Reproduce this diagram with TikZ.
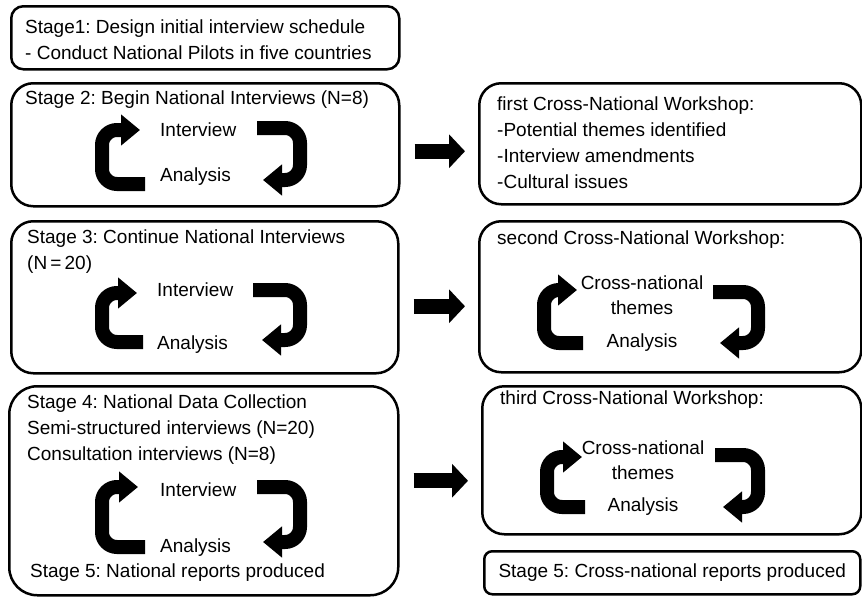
\documentclass[tikz,border=0pt]{standalone}
\usepackage{fontspec}
\setmainfont{Liberation Sans}
\usepackage{tikz}
\usetikzlibrary{arrows.meta, positioning, calc}
\frenchspacing

\begin{document}
\begin{tikzpicture}[
    x=1pt, y=-1pt,
    % Styles
    frame/.style={rectangle, draw=black, line width=2.5pt, rounded corners=#1, anchor=north west, inner sep=0pt},
    txt/.style={font=\fontsize{19}{26}\selectfont, inner sep=0pt, anchor=west, align=left},
    ctxt/.style={font=\fontsize{19}{25}\selectfont, inner sep=0pt, align=center},
    cyc/.style={draw=black, line width=14pt, rounded corners=15pt, -{Triangle[length=19pt, width=30pt]}},
    bigarrow/.style={draw=black, line width=15pt, -{Triangle[length=16pt, width=33pt]}, shorten <=14pt, shorten >=13pt},
]
\useasboundingbox (0,0) rectangle (862,597);

% === FRAMES ===
\node[frame=12pt, minimum width=388pt, minimum height=63pt] (s1) at (10,5) {};
\node[frame=22pt, minimum width=388pt, minimum height=123pt] (s2) at (10,82) {};
\node[frame=22pt, minimum width=382pt, minimum height=121pt] (w1) at (478,82) {};
\node[frame=22pt, minimum width=387pt, minimum height=152pt] (s3) at (10,220) {};
\node[frame=22pt, minimum width=382pt, minimum height=151pt] (w2) at (478,220) {};
\node[frame=28pt, minimum width=389pt, minimum height=209pt] (s4) at (8,385) {};
\node[frame=22pt, minimum width=379pt, minimum height=148pt] (w3) at (481,385) {};
\node[frame=8pt, minimum width=376pt, minimum height=43pt] (r5) at (483,550) {};

% === STAGE 1 ===
\node[txt] (s1text) at (25,40) {Stage1: Design initial interview schedule\\- Conduct National Pilots in five countries};

% === STAGE 2 ===
\node[txt] (s2title) at (25,100) {Stage 2: Begin National Interviews (N=8)};
\node[txt] (int2) at (160,130) {Interview};
\node[txt] (ana2) at (160,177) {Analysis};
\draw[cyc] ([shift={(-15,7)}]ana2.west) -- ++(-43,0) |- ([xshift=-20pt]int2.west);
\draw[cyc] ([shift={(97,-2)}]int2.west) -- ++(43,0) |- ([shift={(103,3)}]ana2.west);

% === WORKSHOP 1 ===
\node[txt] (w1text) at (497,143) {first Cross-National Workshop:\\-Potential themes identified\\-Interview amendments\\-Cultural issues};

% === STAGE 3 ===
\node[txt] (s3title) at (27,252) {Stage 3: Continue National Interviews\\(N\,=\,20)};
\node[txt] (int3) at (157,290) {Interview};
\node[txt] (ana3) at (157,345) {Analysis};
\draw[cyc] ([shift={(-14,-3)}]ana3.west) -- ++(-41,0) |- ([shift={(-20,3)}]int3.west);
\draw[cyc] ([shift={(96,0)}]int3.west) -- ++(47,0) |- ([shift={(105,-5)}]ana3.west);

% === WORKSHOP 2 ===
\node[txt] (w2title) at (497,240) {second Cross-National Workshop:};
\node[ctxt] (cross2) at (642,295) {Cross-national\\themes};
\node[ctxt] (anaw2) at (642,343) {Analysis};
\draw[cyc] ([shift={(-59,0)}]anaw2.center) -- ++(-39,0) |- ([shift={(-65,-5)}]cross2.center);
\draw[cyc] ([shift={(71,-3)}]cross2.center) -- ++(45,0) |- ([shift={(78,0)}]anaw2.center);

% === STAGE 4 ===
\node[txt] (s4title) at (27,430) {Stage 4: National Data Collection\\Semi-structured interviews (N=20)\\Consultation interviews (N=8)};
\node[txt] (int4) at (160,490) {Interview};
\node[txt] (ana4) at (160,548) {Analysis};
\node[txt] (st5) at (30,573) {Stage 5: National reports produced};
\draw[cyc] ([shift={(-15,-1)}]ana4.west) -- ++(-43,0) |- ([shift={(-22,-3)}]int4.west);
\draw[cyc] ([shift={(97,-3)}]int4.west) -- ++(43,0) |- ([shift={(103,-6)}]ana4.west);

% === WORKSHOP 3 ===
\node[txt] (w3title) at (500,400) {third Cross-National Workshop:};
\node[ctxt] (cross3) at (643,460) {Cross-national\\themes};
\node[ctxt] (anaw3) at (643,507) {Analysis};
\draw[cyc] ([shift={(-58,0)}]anaw3.center) -- ++(-38,0) |- ([shift={(-61,-3)}]cross3.center);
\draw[cyc] ([shift={(72,-5)}]cross3.center) -- ++(43,0) |- ([shift={(80,0)}]anaw3.center);

% === STAGE 5 CROSS-NATIONAL ===
\node[ctxt] (r5text) at (r5.center) {Stage 5: Cross-national reports produced};

% === BLOCK ARROWS ===
\draw[bigarrow] ([yshift=-6.5pt]s2.east) -- ([yshift=-6.5pt]s2.east -| w1.west);
\draw[bigarrow] ([yshift=-9pt]s3.east) -- ([yshift=-9pt]s3.east -| w2.west);
\draw[bigarrow] ([yshift=10pt]s4.east) -- ([yshift=10pt]s4.east -| w3.west);

\end{tikzpicture}
\end{document}
